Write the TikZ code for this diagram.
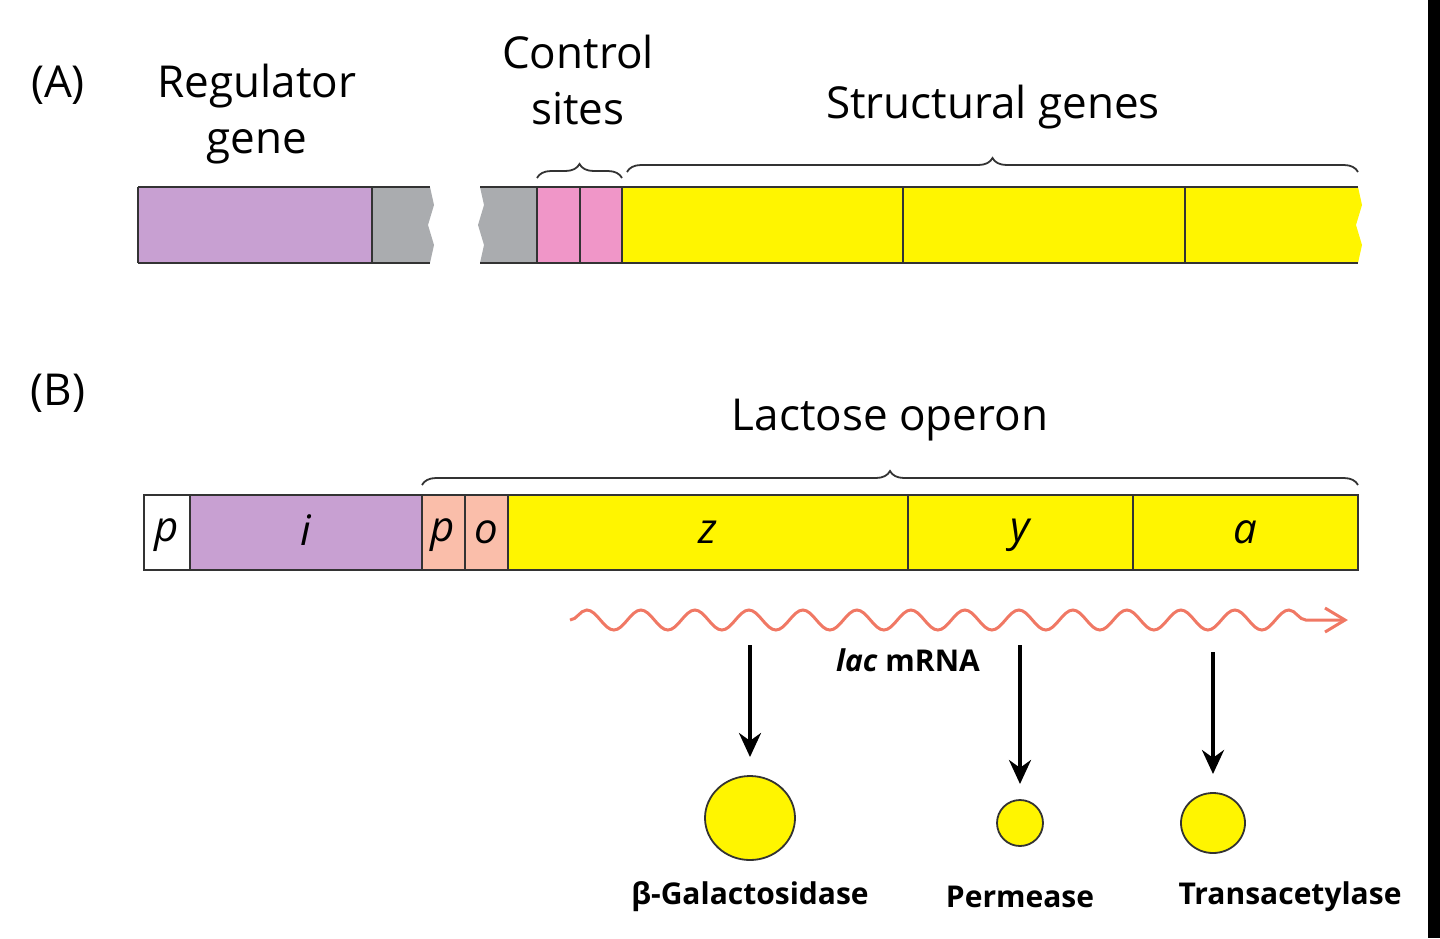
\documentclass[tikz,border=0pt]{standalone}
\usepackage{fontspec}
\setmainfont{Open Sans}
\usetikzlibrary{decorations.pathmorphing,decorations.pathreplacing,arrows.meta,shapes.geometric}
\definecolor{purp}{RGB}{200,160,210}
\definecolor{gry}{RGB}{170,172,175}
\definecolor{pnk}{RGB}{240,150,200}
\definecolor{yel}{RGB}{255,245,0}
\definecolor{salm}{RGB}{250,190,170}
\definecolor{mrna}{RGB}{240,120,100}
\begin{document}
\begin{tikzpicture}[x=0.5pt,y=-0.5pt,
  big/.style={font=\fontsize{22}{28}\selectfont},
  lab/.style={font=\fontsize{15}{17}\selectfont\bfseries},
  gl/.style={font=\fontsize{21}{22}\selectfont\itshape},
  box/.style={draw=black!80,line width=0.9pt},
  br/.style={decorate,decoration={brace,amplitude=7pt},draw=black!80,line width=0.9pt},
  ar/.style={-{Stealth[length=12pt,width=11pt]},line width=1.8pt},
  prot/.style={fill=yel,draw=black!80,line width=0.9pt}]
\useasboundingbox (0,0) rectangle (1440,938);
\fill[black] (1428,0) rectangle (1440,938);
% (A)
\node[big] (la) at (58,85) {(A)};
\node[big,align=center] (rg) at (257,114) {Regulator\\gene};
\node[big,align=center] (cs) at (578,80) {Control\\sites};
\node[big] (sg) at (993,107) {Structural genes};
\fill[purp] (138,187) rectangle (372,263);
\fill[gry] (372,187) -- (430,187) -- (434,205) -- (428,225) -- (434,245) -- (430,263) -- (372,263) -- cycle;
\draw[box] (138,187) -- (138,263) (138,187) -- (430,187) (138,263) -- (430,263) (372,187) -- (372,263);
\fill[gry] (480,187) -- (537,187) -- (537,263) -- (480,263) -- (484,245) -- (478,225) -- (484,205) -- cycle;
\fill[pnk] (537,187) rectangle (622,263);
\fill[yel] (622,187) -- (1358,187) -- (1362,205) -- (1356,225) -- (1362,245) -- (1358,263) -- (622,263) -- cycle;
\draw[box] (480,187) -- (1358,187) (480,263) -- (1358,263);
\foreach \x in {537,580,622,903,1185} \draw[box] (\x,187) -- (\x,263);
\draw[br] (537,178) -- (622,178);
\draw[br] (627,172) -- (1358,172);
% (B)
\node[big] (lb) at (58,393) {(B)};
\node[big] (lo) at (890,420) {Lactose operon};
\fill[white] (144,495) rectangle (190,570);
\fill[purp] (190,495) rectangle (422,570);
\fill[salm] (422,495) rectangle (508,570);
\fill[yel] (508,495) rectangle (1358,570);
\draw[box] (144,495) rectangle (1358,570);
\foreach \x in {190,422,465,508,908,1133} \draw[box] (\x,495) -- (\x,570);
\node[gl] (gp) at (167,535) {p};
\node[gl] (gi) at (306,530) {i};
\node[gl] (gp2) at (443,535) {p};
\node[gl] (go) at (486,532) {o};
\node[gl] (gz) at (708,532) {z};
\node[gl] (gy) at (1020,535) {y};
\node[gl] (ga) at (1245,532) {a};
\draw[br] (422,485) -- (1358,485);
% mRNA
\coordinate (m1) at (570,620);
\coordinate (m2) at (1345,620);
\draw[mrna,line width=1.5pt,decorate,decoration={snake,amplitude=5pt,segment length=27pt,post length=10pt}] (m1) -- (m2);
\draw[mrna,line width=1.5pt] (1325,608) -- (m2) -- (1325,632);
\node[lab] (mr) at (908,660) {\textit{lac} mRNA};
% proteins
\node[prot,ellipse,minimum width=45pt,minimum height=42pt,inner sep=0] (c1) at (750,818) {};
\node[prot,circle,minimum size=23pt,inner sep=0] (c2) at (1020,823) {};
\node[prot,ellipse,minimum width=32pt,minimum height=30pt,inner sep=0] (c3) at (1213,823) {};
\coordinate (a1) at (750,645);
\coordinate (a2) at (1020,645);
\coordinate (a3) at (1213,652);
\draw[ar] (a1) -- (750,757);
\draw[ar] (a2) -- (1020,784);
\draw[ar] (a3) -- (1213,774);
\node[lab] (t1) at (750,897) {β-Galactosidase};
\node[lab] (t2) at (1020,897) {Permease};
\node[lab] (t3) at (1290,897) {Transacetylase};
\end{tikzpicture}
\end{document}
